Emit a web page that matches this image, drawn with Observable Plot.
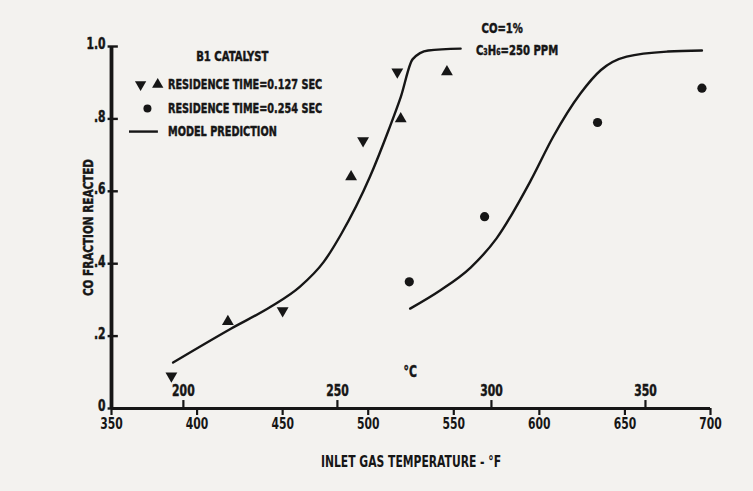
<!DOCTYPE html>
<html>
<head>
<meta charset="utf-8">
<script src="https://cdn.jsdelivr.net/npm/d3@7"></script>
<script src="https://cdn.jsdelivr.net/npm/@observablehq/plot@0.6"></script>
<style>
  html, body { margin: 0; padding: 0; background: #f3f2ef; }
  #chart svg { display: block; }
</style>
</head>
<body>
<div id="chart"></div>
<script>
// ---- data ----
const fTicks = [350, 400, 450, 500, 550, 600, 650, 700];
const cTickLabels = [200, 250, 300, 350];
const yTicks = [0, 0.2, 0.4, 0.6, 0.8, 1.0];
const yTickLabels = ["0", ".2", ".4", ".6", ".8", "1.0"];

// residence time 0.127 s, down triangles
const downX = [385, 450, 497, 517];
const downY = [0.09, 0.27, 0.74, 0.93];
// residence time 0.127 s, up triangles
const upX = [418, 490, 519, 546];
const upY = [0.24, 0.64, 0.80, 0.93];
// residence time 0.254 s, circles
const circX = [524, 568, 634, 695];
const circY = [0.35, 0.53, 0.79, 0.885];
// model prediction curves
const model1X = [386, 420, 443, 460, 474, 484, 501, 512, 519, 526, 535, 554];
const model1Y = [0.127, 0.221, 0.281, 0.336, 0.405, 0.48, 0.64, 0.77, 0.86, 0.965, 0.989, 0.994];
const model2X = [524.5, 542, 560, 575, 595, 608, 624, 636, 651, 675, 695];
const model2Y = [0.276, 0.326, 0.39, 0.47, 0.63, 0.75, 0.87, 0.935, 0.972, 0.986, 0.989];

// ---- build tables ----
const zip = (xs, ys) => xs.map((x, i) => ({x, y: ys[i]}));
const down = zip(downX, downY);
const up = zip(upX, upY);
const circ = zip(circX, circY);
const m1 = zip(model1X, model1Y);
const m2 = zip(model2X, model2Y);
const cToF = c => c * 9 / 5 + 32;
const cTicks = cTickLabels.map(c => ({x: cToF(c), label: String(c)}));
const yt = yTicks.map((v, i) => ({y: v, label: yTickLabels[i]}));

const ink = "#161616";
const font = "'DejaVu Sans Condensed', 'DejaVu Sans', sans-serif";
const bold = {fontWeight: "bold", fill: ink, stroke: ink, strokeWidth: 0.45};

const chart = Plot.plot({
  width: 753,
  height: 491,
  marginLeft: 111,
  marginRight: 43,
  marginTop: 46,
  marginBottom: 83,
  style: {background: "transparent", fontFamily: font, fontWeight: "bold", color: ink},
  x: {domain: [350, 700], axis: null},
  y: {domain: [0, 1], axis: null},
  marks: [
    // axes lines
    Plot.ruleY([0], {x1: 350, x2: 700, stroke: ink, strokeWidth: 3.2}),
    Plot.ruleX([350], {y1: 0, y2: 1, stroke: ink, strokeWidth: 3.8}),
    // Fahrenheit axis (bottom)
    Plot.axisX({ticks: fTicks, tickSize: 7, tickPadding: 3, tickFormat: d => String(d),
      fontSize: 15, fontWeight: "bold", stroke: ink, strokeWidth: 2.2, color: ink,
      label: "INLET GAS TEMPERATURE - °F", labelAnchor: "center", labelArrow: "none", labelOffset: 58}),
    // Celsius ticks (above the axis)
    Plot.ruleX(cTicks, {x: "x", y1: 0, y2: 0.022, stroke: ink, strokeWidth: 2.2}),
    Plot.text(cTicks, {x: "x", y: 0, dy: -17, text: "label", fontSize: 15, ...bold}),
    Plot.text(["°C"], {x: 524.5, y: 0.1, text: d => d, fontSize: 15, ...bold}),
    // y ticks & labels
    Plot.ruleY(yt, {y: "y", x1: 348, x2: 354, stroke: ink, strokeWidth: 2.4}),
    Plot.text(yt, {y: "y", x: 350, dx: -6, dy: -2, text: "label", textAnchor: "end", fontSize: 15, ...bold}),
    Plot.text(["CO FRACTION REACTED"], {x: 350, y: 0.5, dx: -23, rotate: -90, text: d => d,
      fontSize: 14.5, ...bold}),
    // model curves
    Plot.line(m1, {x: "x", y: "y", curve: "monotone-x", stroke: ink, strokeWidth: 2.4}),
    Plot.line(m2, {x: "x", y: "y", curve: "monotone-x", stroke: ink, strokeWidth: 2.4}),
    // data points
    Plot.dot(down, {x: "x", y: "y", symbol: "triangle", rotate: 180, r: 4.4, fill: ink, stroke: "none"}),
    Plot.dot(up, {x: "x", y: "y", symbol: "triangle", r: 4.4, fill: ink, stroke: "none"}),
    Plot.dot(circ, {x: "x", y: "y", symbol: "circle", r: 4.6, fill: ink, stroke: "none"}),
    // legend block
    Plot.text(["B1 CATALYST"], {x: 420.6, y: 0.972, text: d => d, fontSize: 14, ...bold}),
    Plot.dot([{x: 367, y: 0.895}], {x: "x", y: "y", symbol: "triangle", rotate: 180, r: 4.2, fill: ink, stroke: "none"}),
    Plot.dot([{x: 377, y: 0.895}], {x: "x", y: "y", symbol: "triangle", r: 4.2, fill: ink, stroke: "none"}),
    Plot.dot([{x: 371, y: 0.829}], {x: "x", y: "y", symbol: "circle", r: 4, fill: ink, stroke: "none"}),
    Plot.ruleY([0.765], {x1: 360.5, x2: 377.4, stroke: ink, strokeWidth: 2.4}),
    Plot.text(["RESIDENCE TIME=0.127 SEC", "RESIDENCE TIME=0.254 SEC", "MODEL PREDICTION"],
      {x: 383, y: (d, i) => [0.895, 0.829, 0.765][i], text: d => d, textAnchor: "start", fontSize: 13.5, ...bold}),
    // conditions
    Plot.text(["CO=1%"], {x: 578.3, y: 1.05, text: d => d, fontSize: 14, ...bold}),
    Plot.text(["C₃H₆=250 PPM"], {x: 587, y: 0.989, text: d => d, fontSize: 14, ...bold})
  ]
});
// condense all lettering horizontally (narrow caps of the original)
d3.select(chart).selectAll("text").each(function() {
  const t = this.getAttribute("transform");
  if (t) this.setAttribute("transform", t + " scale(0.8,1)");
});
document.getElementById("chart").appendChild(chart);
</script>
</body>
</html>
